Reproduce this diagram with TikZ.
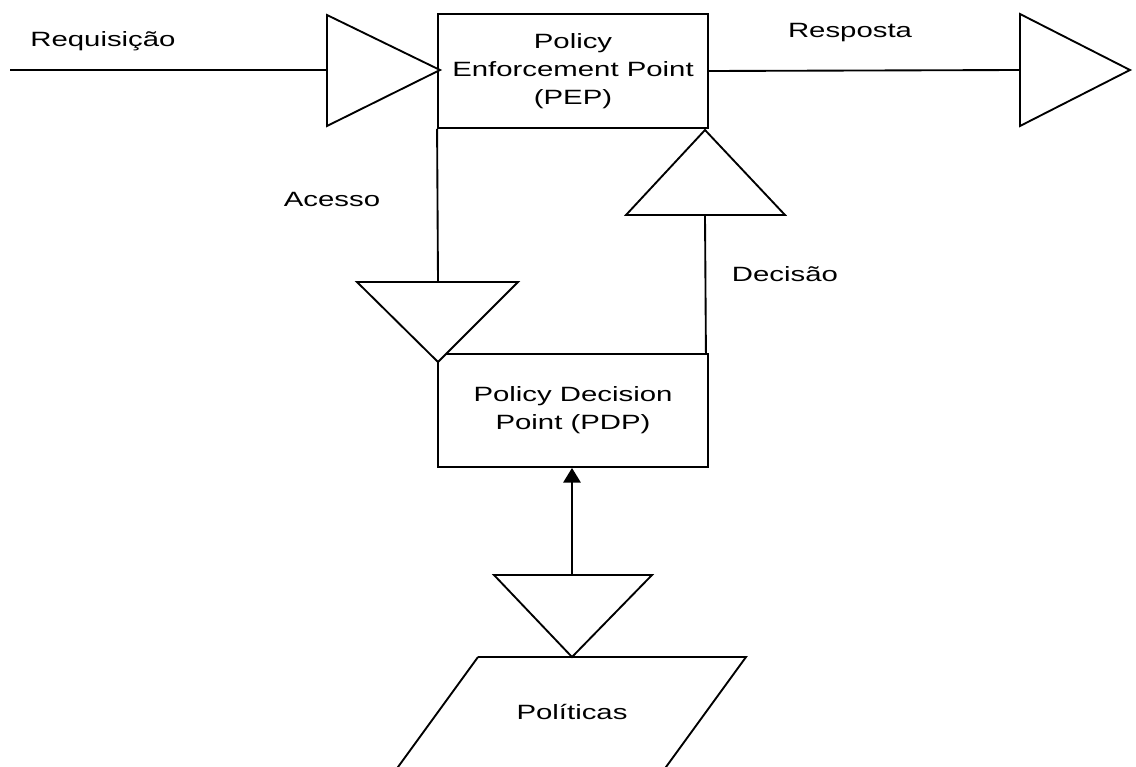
\documentclass[tikz,border=0pt]{standalone}
\usepackage{fontspec}
\setmainfont{Liberation Sans}[FakeStretch=1.42]
\usetikzlibrary{arrows.meta}
\begin{document}
\begin{tikzpicture}[x=0.75pt,y=-0.75pt,
  line width=1.4pt, line join=miter,
  lbl/.style={inner sep=0pt, font=\fontsize{15.5}{21}\selectfont},
  block/.style={draw, minimum width=202.5pt, inner sep=0pt, align=center,
                font=\fontsize{15.5}{21}\selectfont},
  tri/.style={draw, fill=white}]
\useasboundingbox (0,0) rectangle (1136,767);
\clip (0,0) rectangle (1136,767);

% main blocks
\node[block, minimum height=85.5pt] (pep) at (573,71)
  {Policy\\Enforcement Point\\(PEP)};
\node[block, minimum height=84.75pt] (pdp) at (573,410.5)
  {Policy Decision\\Point (PDP)};

% request / response triangles
\coordinate (reqin) at (10,70);
\coordinate (t1base) at (327,70);
\draw[tri] (327,15) -- (327,126) -- (440,70) -- cycle;
\coordinate (t2base) at (1020,70);
\draw[tri] (1020,14) -- (1020,126) -- (1130,70) -- cycle;
\draw (reqin) -- (t1base);
\draw (pep.east) -- (t2base);

% access / decision triangles
\coordinate (t3base) at (438,282);
\draw[tri] (357,282) -- (518,282) -- (438,362) -- cycle;
\coordinate (t4base) at (705,215);
\draw[tri] (626,215) -- (785,215) -- (705,130) -- cycle;
\draw (pep.south west) -- (t3base);
\draw ([xshift=-2.25pt]pdp.north east) -- (t4base);

% policy store
\coordinate (t5base) at (572,575);
\draw[tri] (494,575) -- (652,575) -- (572,657) -- cycle;
\draw (478,657) -- (746,657) -- (666,767) -- (666+80*0.5,767+110*0.5)
      (478,657) -- (398,767) -- (398-40,767+55);
\node[lbl] (pol) at (572,712) {Políticas};
\draw[-{Triangle[width=13pt,length=11pt]}] (t5base) -- (pdp.south -| t5base);

% labels
\node[lbl] (req) at (103,41) {Requisição};
\node[lbl] (resp) at (850,33) {Resposta};
\node[lbl] (acc) at (332,199) {Acesso};
\node[lbl] (dec) at (785,274) {Decisão};
\end{tikzpicture}
\end{document}
